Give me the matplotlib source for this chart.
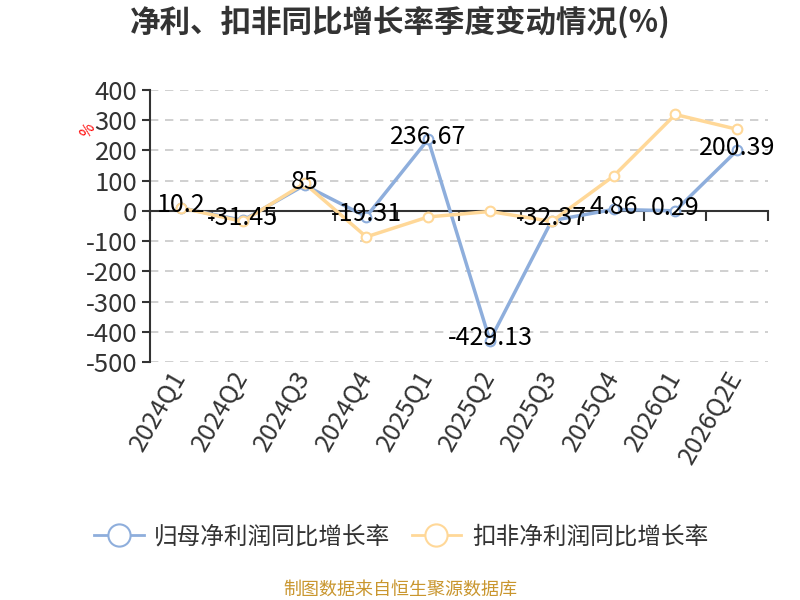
import matplotlib
matplotlib.use("Agg")
import matplotlib.pyplot as plt
from matplotlib.lines import Line2D

plt.rcParams['font.family'] = ['Noto Sans CJK SC', 'DejaVu Sans']

# data
quarters = ['2024Q1', '2024Q2', '2024Q3', '2024Q4', '2025Q1',
            '2025Q2', '2025Q3', '2025Q4', '2026Q1', '2026Q2E']
net_growth = [10.2, -31.45, 85, -19.31, 236.67, -429.13, -32.37, 4.86, 0.29, 200.39]
deducted_growth = [10, -35, 91, -86, -20, -2, -35, 115, 319, 270]
y_ticks = [400, 300, 200, 100, 0, -100, -200, -300, -400, -500]

blue = '#8eaedc'
orange = '#ffd898'
text_col = '#333333'

fig = plt.figure(figsize=(8, 6), dpi=100)
ax = fig.add_axes([150 / 800, 1 - 362 / 600, 618 / 800, 272 / 600])

x = list(range(len(quarters)))

ax.plot(x, net_growth, color=blue, lw=2.5, marker='o', ms=7,
        mfc='white', mec=blue, mew=1.5, zorder=3)
ax.plot(x, deducted_growth, color=orange, lw=2.5, marker='o', ms=7,
        mfc='white', mec=orange, mew=1.5, zorder=4)

for xi, v in zip(x, net_growth):
    ax.annotate(f'{v:g}', (xi, v), xytext=(0, 2), textcoords='offset points',
                ha='center', va='center', fontsize=18, color='black', zorder=6)

ax.set_xlim(-0.5, len(quarters) - 0.5)
ax.set_ylim(-500, 400)
ax.set_yticks(y_ticks)
ax.set_yticklabels([str(t) for t in y_ticks], fontsize=18.5, color=text_col)
ax.tick_params(axis='y', length=6, width=1.5, color=text_col, pad=3)
ax.grid(axis='y', color='#c8c8c8', ls=(0, (5, 4)), lw=1.2)
ax.set_axisbelow(True)

# category axis sits on the zero line
for s in ['top', 'right']:
    ax.spines[s].set_visible(False)
ax.spines['left'].set_color(text_col)
ax.spines['left'].set_linewidth(1.5)
ax.spines['bottom'].set_position(('data', 0))
ax.spines['bottom'].set_color(text_col)
ax.spines['bottom'].set_linewidth(1.5)
ax.set_xticks([i - 0.5 for i in range(len(quarters) + 1)])
ax.set_xticklabels([])
ax.tick_params(axis='x', length=7, width=1.5, color=text_col, direction='out')

for xi, q in zip(x, quarters):
    ax.annotate(q, (xi, -500), xytext=(0, -8), textcoords='offset points',
                ha='right', va='center', rotation=60, rotation_mode='anchor',
                fontsize=18, color=text_col, annotation_clip=False)

fig.text(88 / 800, 1 - 131 / 600, '%', color='red', fontsize=11,
         rotation=60, ha='center', va='center')

fig.text(0.5, 1 - 22 / 600, '净利、扣非同比增长率季度变动情况(%)',
         ha='center', va='center', fontsize=22, fontweight='bold', color=text_col)

handles = [
    Line2D([], [], color=blue, lw=2, marker='o', ms=16, mfc='white', mec=blue, mew=1.5),
    Line2D([], [], color=orange, lw=2, marker='o', ms=16, mfc='white', mec=orange, mew=1.5),
]
fig.legend(handles, ['归母净利润同比增长率', '扣非净利润同比增长率'],
           loc='center', bbox_to_anchor=(401 / 800, 1 - 537 / 600), ncol=2,
           frameon=False, fontsize=17, handlelength=2.1, handletextpad=0.45,
           columnspacing=0.9, labelcolor=text_col)

fig.text(0.5, 1 - 590 / 600, '制图数据来自恒生聚源数据库',
         ha='center', va='center', fontsize=13, color='#c9962e')

fig.savefig('out.png', dpi=100)
